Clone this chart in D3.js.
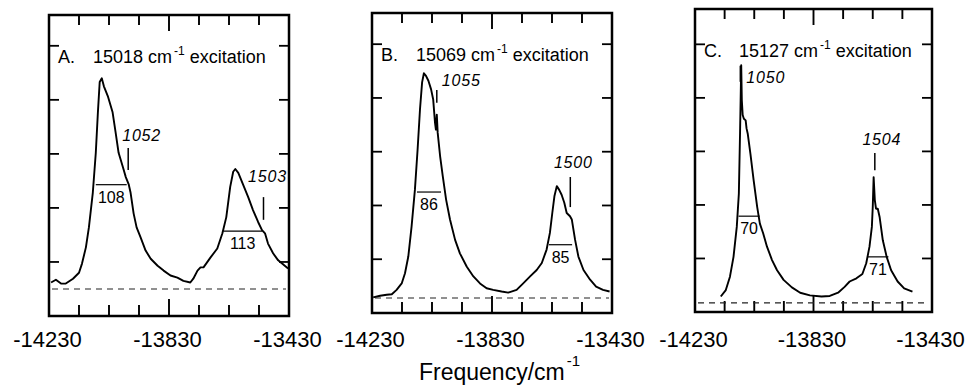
<!DOCTYPE html>
<html>
<head>
<meta charset="utf-8">
<script src="https://cdn.jsdelivr.net/npm/d3@7"></script>
<style>
  body { margin: 0; background: #fff; }
  svg { display: block; font-family: "Liberation Sans", Arial, sans-serif; }
</style>
</head>
<body>
<div id="chart"></div>
<script>
const width = 967;
const height = 385;

// shared x axis (cm^-1)
const freqDomain = [-14230, -13430];
const labelTicks = [-14230, -13830, -13430];
const minorTicks = [-14130, -14030, -13930, -13830, -13730, -13630, -13530];
const intensityTicks = [1, 2, 3, 4, 5];

const letters = ["A.", "B.", "C."];
const excitation = [15018, 15069, 15127];
const baselineLevel = [0.5, 0.28, 0.17];

// A. 15018 excitation
const freqA = [-14223,-14207,-14190,-14174,-14150,-14130,-14120,-14107,-14097,-14084,-14074,-14067,-14061,-14054,-14047,-14034,-14018,-14008,-13998,-13984,-13974,-13964,-13958,-13948,-13938,-13925,-13908,-13891,-13868,-13848,-13825,-13802,-13782,-13759,-13749,-13735,-13725,-13715,-13692,-13669,-13652,-13639,-13626,-13616,-13609,-13599,-13583,-13566,-13550,-13533,-13520,-13510,-13500,-13483,-13466,-13453,-13433];
const intA = [0.62,0.67,0.60,0.60,0.69,0.80,0.97,1.27,1.64,2.28,3.02,3.77,4.33,4.40,4.25,4.07,3.77,3.40,3.02,2.76,2.57,2.43,2.28,1.90,1.64,1.46,1.21,1.06,0.93,0.84,0.75,0.71,0.65,0.62,0.69,0.84,0.90,0.90,1.08,1.25,1.53,1.83,2.39,2.67,2.72,2.65,2.43,2.20,1.96,1.74,1.59,1.53,1.34,1.16,1.03,0.97,0.88];
const shiftsA = [1052, 1503];
const markTopA = [3.11, 2.20];
const markBotA = [2.70, 1.78];
const fwhmA = [108, 113];
const fwhmLevelA = [2.43, 1.57];
const fwhmFromA = [-14074, -13649];
const fwhmToA = [-13971, -13520];

// B. 15069 excitation
const freqB = [-14226,-14203,-14181,-14164,-14148,-14131,-14120,-14109,-14098,-14087,-14078,-14070,-14063,-14057,-14050,-14042,-14033,-14026,-14020,-14017,-14014,-14011,-14003,-13994,-13983,-13970,-13953,-13937,-13914,-13892,-13870,-13848,-13826,-13798,-13776,-13748,-13726,-13703,-13681,-13664,-13648,-13637,-13629,-13622,-13614,-13606,-13598,-13589,-13581,-13570,-13564,-13553,-13542,-13525,-13503,-13483,-13460,-13438];
const intB = [0.29,0.32,0.34,0.35,0.43,0.55,0.74,1.05,1.61,2.29,3.04,3.79,4.29,4.46,4.41,4.32,4.16,3.97,3.54,3.41,3.69,3.35,2.92,2.54,2.11,1.74,1.36,1.11,0.86,0.68,0.55,0.46,0.43,0.40,0.38,0.43,0.55,0.68,0.80,0.93,1.18,1.49,1.86,2.17,2.36,2.29,2.20,2.05,1.86,1.80,1.74,1.36,1.05,0.80,0.62,0.49,0.43,0.40];
const shiftsB = [1055, 1500];
const markTopB = [4.15, 2.53];
const markBotB = [3.91, 1.97];
const fwhmB = [86, 85];
const fwhmLevelB = [2.25, 1.27];
const fwhmFromB = [-14080, -13640];
const fwhmToB = [-14000, -13563];

// C. 15127 excitation
const freqC = [-14143,-14126,-14112,-14100,-14089,-14082,-14078,-14076,-14074,-14072,-14069,-14065,-14059,-14056,-14052,-14043,-14032,-14020,-14011,-14000,-13987,-13970,-13953,-13931,-13903,-13875,-13842,-13803,-13775,-13747,-13725,-13708,-13685,-13665,-13652,-13641,-13633,-13630,-13627,-13623,-13619,-13613,-13607,-13596,-13583,-13568,-13546,-13524,-13496];
const intC = [0.29,0.41,0.66,1.03,1.59,2.21,3.33,3.96,4.61,3.96,3.68,3.61,3.58,3.43,3.33,2.96,2.46,1.96,1.65,1.47,1.22,0.97,0.78,0.60,0.46,0.36,0.31,0.29,0.30,0.36,0.47,0.57,0.63,0.71,0.91,1.22,1.59,1.96,2.52,2.09,1.93,1.93,1.78,1.34,1.03,0.78,0.57,0.44,0.38];
const shiftsC = [1050, 1504];
const markTopC = [4.60, 2.97];
const markBotC = [4.30, 2.65];
const fwhmC = [70, 71];
const fwhmLevelC = [1.79, 1.03];
const fwhmFromC = [-14083, -13648];
const fwhmToC = [-14012, -13577];

// where each box sits on the page
const frames = [
    {left: 49, right: 289, top: 15, bottom: 316, yMax: 5.57},
    {left: 372, right: 612, top: 13, bottom: 313, yMax: 5.58},
    {left: 695, right: 932, top: 9, bottom: 312, yMax: 5.66}
];
// where the italic shift numbers sit relative to their little marks
const shiftLabelPos = [
    [{anchor: "start", dx: -6, dy: -7}, {anchor: "middle", dx: 4, dy: -15}],
    [{anchor: "start", dx: 5, dy: -4}, {anchor: "middle", dx: 3, dy: -9}],
    [{anchor: "start", dx: 6, dy: 17}, {anchor: "middle", dx: 7, dy: -8}]
];

const panels = [
    {freq: freqA, inten: intA, shifts: shiftsA, markTop: markTopA, markBot: markBotA,
     fwhm: fwhmA, fwhmLevel: fwhmLevelA, fwhmFrom: fwhmFromA, fwhmTo: fwhmToA},
    {freq: freqB, inten: intB, shifts: shiftsB, markTop: markTopB, markBot: markBotB,
     fwhm: fwhmB, fwhmLevel: fwhmLevelB, fwhmFrom: fwhmFromB, fwhmTo: fwhmToB},
    {freq: freqC, inten: intC, shifts: shiftsC, markTop: markTopC, markBot: markBotC,
     fwhm: fwhmC, fwhmLevel: fwhmLevelC, fwhmFrom: fwhmFromC, fwhmTo: fwhmToC}
];

const svg = d3.select("#chart")
    .append("svg")
    .attr("width", width)
    .attr("height", height)
    .attr("viewBox", [0, 0, width, height]);

panels.forEach((p, i) => {
    const fr = frames[i];
    const x = d3.scaleLinear(freqDomain, [fr.left, fr.right]);
    const y = d3.scaleLinear([0, fr.yMax], [fr.bottom, fr.top]);
    const g = svg.append("g");

    // inward ticks, bottom and top (middle one a bit longer)
    const tickLen = d => d === -13830 ? 17 : 11;
    g.append("g").selectAll("line").data(minorTicks).join("line")
        .attr("x1", d => x(d)).attr("x2", d => x(d))
        .attr("y1", fr.bottom).attr("y2", d => fr.bottom - tickLen(d))
        .attr("stroke", "#000").attr("stroke-width", 1.9);
    g.append("g").selectAll("line").data(minorTicks).join("line")
        .attr("x1", d => x(d)).attr("x2", d => x(d))
        .attr("y1", fr.top).attr("y2", d => fr.top + tickLen(d) - 1)
        .attr("stroke", "#000").attr("stroke-width", 1.9);
    // inward ticks, left and right
    g.append("g").selectAll("line").data(intensityTicks).join("line")
        .attr("x1", fr.left).attr("x2", fr.left + 10)
        .attr("y1", d => y(d)).attr("y2", d => y(d))
        .attr("stroke", "#000").attr("stroke-width", 1.8);
    g.append("g").selectAll("line").data(intensityTicks).join("line")
        .attr("x1", fr.right).attr("x2", fr.right - 10)
        .attr("y1", d => y(d)).attr("y2", d => y(d))
        .attr("stroke", "#000").attr("stroke-width", 1.8);

    // frequency labels under the box
    g.append("g")
        .attr("transform", "translate(-2,347)")
        .call(d3.axisBottom(x).tickValues(labelTicks).tickSize(0).tickFormat(d => "-" + Math.abs(d)))
        .call(a => a.select(".domain").remove())
        .call(a => a.selectAll(".tick line").remove())
        .call(a => a.selectAll("text")
            .attr("y", 0).attr("dy", 0)
            .attr("font-size", 22)
            .attr("font-family", "Liberation Sans, Arial, sans-serif")
            .attr("fill", "#000"));

    // frame
    g.append("rect")
        .attr("x", fr.left).attr("y", fr.top)
        .attr("width", fr.right - fr.left).attr("height", fr.bottom - fr.top)
        .attr("fill", "none").attr("stroke", "#000").attr("stroke-width", 2.5);

    // zero line
    g.append("line")
        .attr("x1", x(freqDomain[0]) + 3).attr("x2", x(freqDomain[1]) - 3)
        .attr("y1", y(baselineLevel[i])).attr("y2", y(baselineLevel[i]))
        .attr("stroke", "#222").attr("stroke-width", 1.1)
        .attr("stroke-dasharray", "6,5");

    // spectrum
    const pts = p.freq.map((f, k) => ({f: f, v: p.inten[k]}));
    const line = d3.line().x(d => x(d.f)).y(d => y(d.v));
    g.append("path")
        .attr("d", line(pts))
        .attr("fill", "none").attr("stroke", "#000")
        .attr("stroke-width", 1.9).attr("stroke-linejoin", "round");

    // title
    const t = g.append("text")
        .attr("x", fr.left + 9).attr("y", fr.top + 48)
        .attr("font-size", 18);
    t.append("tspan").text(letters[i]);
    t.append("tspan").attr("x", fr.left + 44).text(excitation[i] + " cm");
    t.append("tspan").attr("dx", 2).attr("dy", -8).attr("font-size", 12).text("-1");
    t.append("tspan").attr("dy", 8).text(" excitation");

    // marked shifts
    p.shifts.forEach((s, k) => {
        const fx = x(-(excitation[i] - s));
        const pos = shiftLabelPos[i][k];
        g.append("line")
            .attr("x1", fx).attr("x2", fx)
            .attr("y1", y(p.markTop[k])).attr("y2", y(p.markBot[k]))
            .attr("stroke", "#000").attr("stroke-width", 1.5);
        g.append("text")
            .attr("x", fx + pos.dx).attr("y", y(p.markTop[k]) + pos.dy)
            .attr("text-anchor", pos.anchor)
            .attr("font-size", 16).attr("font-style", "italic")
            .attr("letter-spacing", 0.8)
            .text(s);
    });

    // half widths
    p.fwhm.forEach((w, k) => {
        const x1 = x(p.fwhmFrom[k]), x2 = x(p.fwhmTo[k]);
        const ly = y(p.fwhmLevel[k]);
        g.append("line")
            .attr("x1", x1).attr("x2", x2).attr("y1", ly).attr("y2", ly)
            .attr("stroke", "#000").attr("stroke-width", 1.2);
        g.append("text")
            .attr("x", (x1 + x2) / 2).attr("y", ly + 18)
            .attr("text-anchor", "middle")
            .attr("font-size", 16)
            .text(w);
    });
});

// shared axis title
const xt = svg.append("text")
    .attr("x", 419).attr("y", 380)
    .attr("font-size", 23);
xt.append("tspan").text("Frequency/cm");
xt.append("tspan").attr("dx", 2).attr("dy", -14).attr("font-size", 15).text("-1");
</script>
</body>
</html>
